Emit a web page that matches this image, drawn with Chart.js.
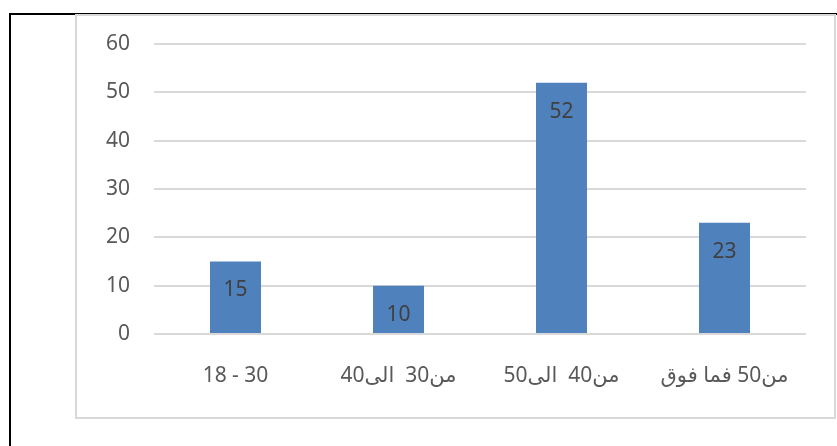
<!DOCTYPE html>
<html>
<head>
<meta charset="utf-8">
<script src="https://cdn.jsdelivr.net/npm/chart.js@4/dist/chart.umd.min.js"></script>
<style>
    body { margin: 0; background: #ffffff; }
    #frame { position: absolute; left: 9px; top: 13px; width: 900px; height: 500px;
             border-left: 2px solid #000; border-top: 2px solid #000; }
    #box { position: absolute; left: 75px; top: 14px; width: 757px; height: 401px;
           border: 2px solid #d9d9d9; }
    #wrap { position: absolute; left: 0; top: 0; width: 837px; height: 446px; }
</style>
</head>
<body>
<div id="frame"></div>
<div id="box"></div>
<div id="wrap"><canvas id="ageChart" dir="rtl"></canvas></div>
<script>
// Age groups (x axis, Arabic, right-to-left) and counts
const ageGroups = ['30 - 18', 'من30  الى40', 'من40  الى50', 'من50 فما فوق'];
const counts = [15, 10, 52, 23];
const yTicks = [0, 10, 20, 30, 40, 50, 60];

const FONT = '"Noto Sans", "DejaVu Sans", sans-serif';

// Simple label plugin: value drawn inside the top of each bar
const barLabels = {
    id: 'barLabels',
    beforeDraw(chart) {
        chart.ctx.direction = 'rtl';
    },
    afterDatasetsDraw(chart) {
        const ctx = chart.ctx;
        const meta = chart.getDatasetMeta(0);
        ctx.save();
        ctx.font = '21px ' + FONT;
        ctx.fillStyle = '#404040';
        ctx.textAlign = 'center';
        ctx.textBaseline = 'middle';
        meta.data.forEach(function(bar, i) {
            ctx.fillText(counts[i], bar.x, bar.y + 29);
        });
        ctx.restore();
    }
};

const ctx = document.getElementById('ageChart').getContext('2d');
const ageChart = new Chart(ctx, {
    type: 'bar',
    data: {
        labels: ageGroups,
        datasets: [{
            data: counts,
            backgroundColor: '#4f81bd',
            borderWidth: 0,
            categoryPercentage: 1,
            barPercentage: 0.313
        }]
    },
    options: {
        responsive: true,
        maintainAspectRatio: false,
        animation: false,
        layout: {
            padding: { left: 0, right: 31, top: 44, bottom: 42 }
        },
        plugins: {
            legend: { display: false },
            tooltip: { enabled: false }
        },
        scales: {
            x: {
                grid: { display: false },
                border: { display: false },
                ticks: {
                    color: '#595959',
                    padding: 21,
                    maxRotation: 0,
                    font: { size: 21, family: FONT }
                },
                afterFit: function(axis) { axis.height = 70; }
            },
            y: {
                min: 0,
                max: 60,
                afterBuildTicks: function(axis) {
                    axis.ticks = yTicks.map(v => ({ value: v }));
                },
                grid: { color: '#d9d9d9', lineWidth: 2, drawTicks: false },
                border: { display: false },
                ticks: {
                    color: '#595959',
                    padding: 24,
                    font: { size: 21, family: FONT }
                },
                afterFit: function(axis) { axis.width = 154; }
            }
        }
    },
    plugins: [barLabels]
});
</script>
</body>
</html>
